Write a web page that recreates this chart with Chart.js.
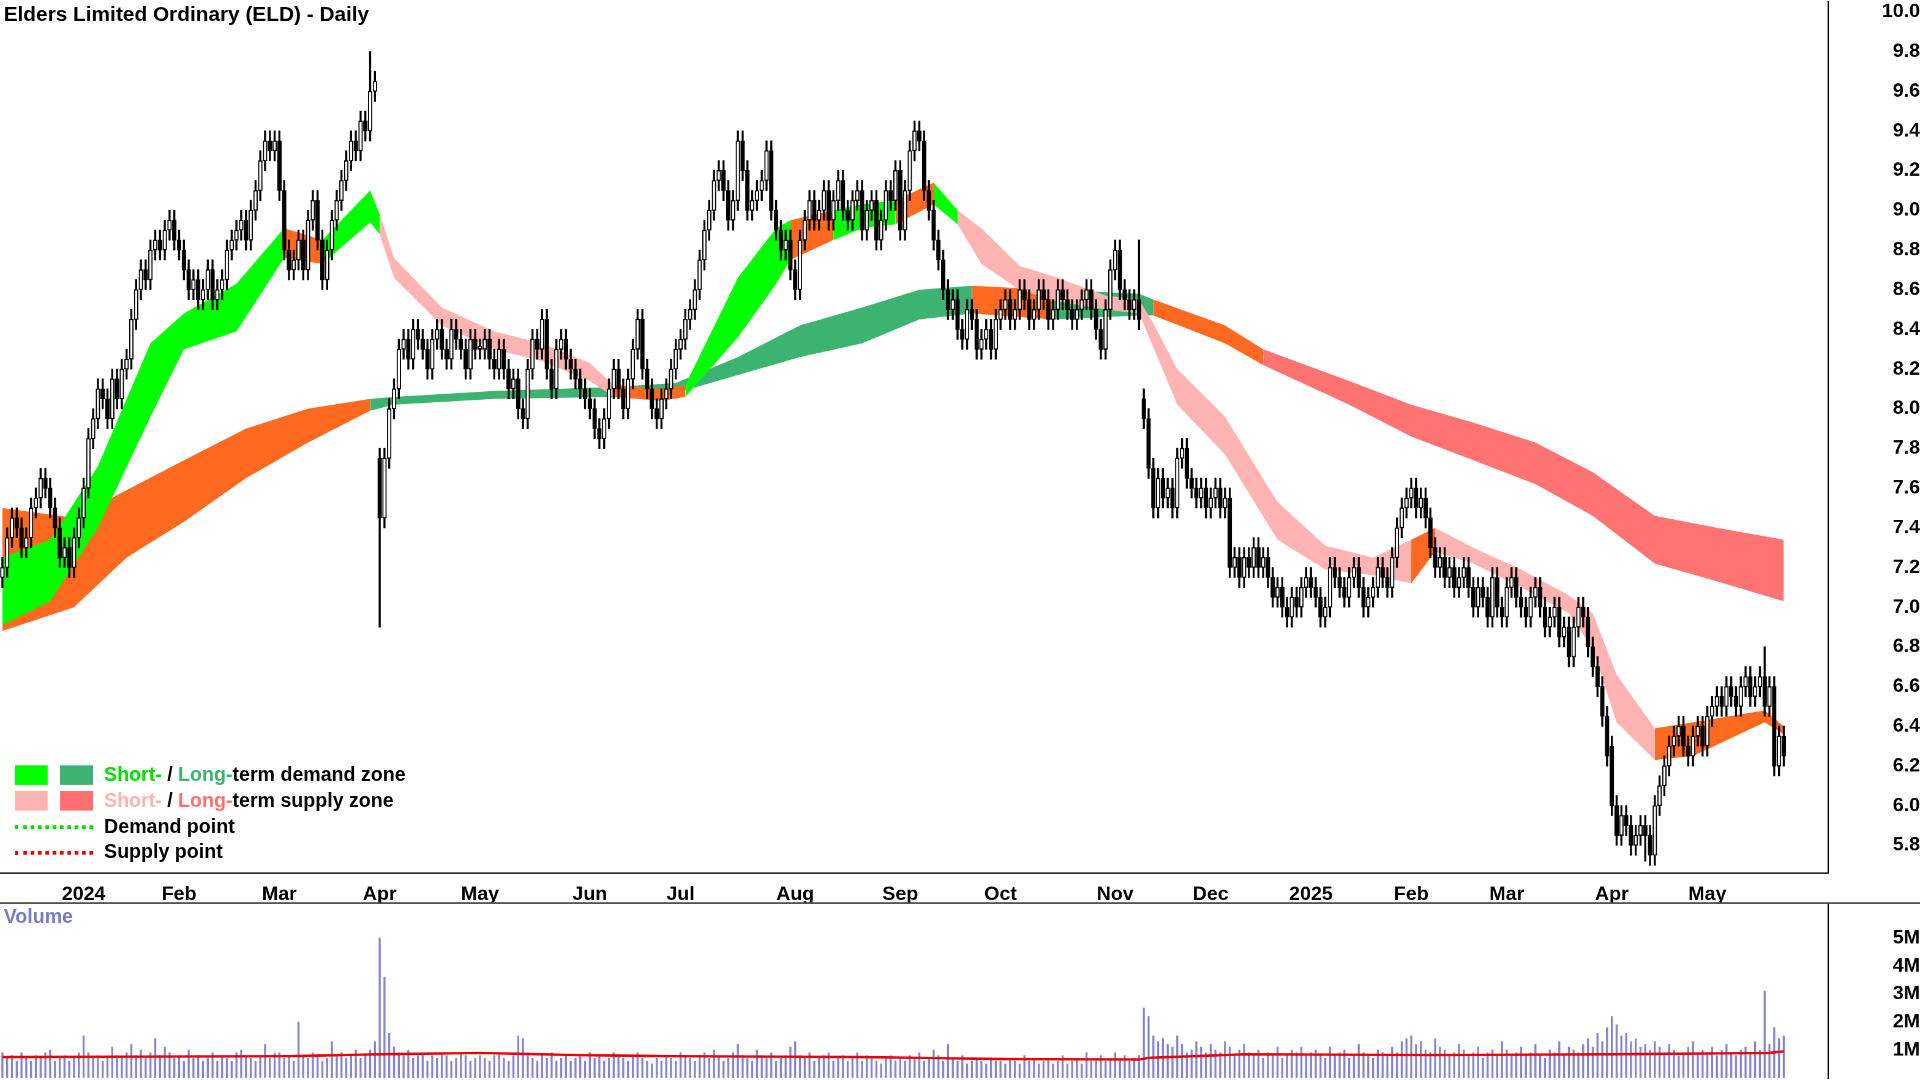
<!DOCTYPE html>
<html>
<head>
<meta charset="utf-8">
<script src="https://cdn.jsdelivr.net/npm/chart.js@4.4.1/dist/chart.umd.min.js"></script>
<style>
  body { margin: 0; background: #fff; overflow: hidden; }
  #wrap { position: absolute; left: 0; top: 0; width: 1568px; height: 882px; transform: scale(1.22449); transform-origin: 0 0; font-family: "Liberation Sans", Arial, sans-serif; overflow: hidden; }
  #priceBox { position: absolute; left: 0; top: -12px; width: 1568px; height: 749px; }
  #volLine { position: absolute; left: 0; top: 737px; width: 1568px; border-top: 1px solid #000; }
  #volBox { position: absolute; left: 0; top: 725px; width: 1568px; height: 169px; }
  .title { position: absolute; left: 3px; top: 2px; font-weight: bold; font-size: 17px; }
  .vlab { position: absolute; left: 3px; font-weight: bold; font-size: 16px; color: #7b7bc4; }
  .legend { position: absolute; left: 12px; top: 624px; font-weight: bold; font-size: 16px; }
  .row { height: 21px; position: relative; }
  .sw { position: absolute; top: 1px; width: 27px; height: 16px; }
  .txt { position: absolute; left: 73px; top: 0; white-space: nowrap; }
  .dot { position: absolute; left: 0; top: 8px; width: 64px; border-top: 3px dotted; }
</style>
</head>
<body>
<div id="wrap">
  <div id="priceBox"><canvas id="price" width="1568" height="749"></canvas></div>
  <div id="volBox"><canvas id="vol" width="1568" height="169"></canvas></div>
  <div id="volLine"></div>
  <div class="title">Elders Limited Ordinary (ELD) - Daily</div>
  <div class="vlab" style="top:740px">Volume</div>
  <div class="legend">
    <div class="row"><div class="sw" style="left:0;background:#00ff00"></div><div class="sw" style="left:37px;background:#3cb371"></div><div class="txt"><span style="color:#00e000">Short-</span> / <span style="color:#3cb371">Long-</span>term demand zone</div></div>
    <div class="row"><div class="sw" style="left:0;background:#ffb3b3"></div><div class="sw" style="left:37px;background:#ff7070"></div><div class="txt"><span style="color:#ffb3b3">Short-</span> / <span style="color:#ff7070">Long-</span>term supply zone</div></div>
    <div class="row"><div class="dot" style="border-color:#00dd00"></div><div class="txt">Demand point</div></div>
    <div class="row"><div class="dot" style="border-color:#ee0000"></div><div class="txt">Supply point</div></div>
  </div>
</div>
<script>
// daily closes, Dec 2023 .. May 2025
const closes = [
  7.20,7.35,7.45,7.40,7.30,7.35,7.50,7.55,7.65,7.60,7.50,7.40,7.25,7.30,7.20,7.35,7.45,
  7.60,7.85,7.95,8.10,8.05,7.95,8.15,8.05,8.20,8.25,8.45,8.60,8.70,8.65,8.80,8.85,8.80,8.90,8.95,8.85,
  8.80,8.70,8.60,8.65,8.55,8.60,8.70,8.55,8.60,8.65,8.80,8.85,8.90,8.95,8.85,9.00,9.10,9.25,9.35,9.30,9.35,
  9.10,8.80,8.70,8.75,8.85,8.70,8.95,9.05,8.85,8.65,8.80,8.95,9.05,9.15,9.25,9.35,9.30,9.45,9.40,9.60,9.65,
  7.45,7.75,8.00,8.10,8.30,8.35,8.25,8.40,8.35,8.30,8.20,8.35,8.40,8.30,8.25,8.40,8.35,8.30,8.20,8.35,8.30,
  8.30,8.35,8.25,8.20,8.30,8.20,8.10,8.15,8.00,7.95,8.20,8.35,8.30,8.45,8.20,8.10,8.30,8.35,8.25,8.20,8.15,8.10,8.05,
  8.00,7.90,7.85,7.95,8.10,8.20,8.10,8.00,8.15,8.30,8.45,8.20,8.10,8.00,7.95,8.05,8.10,8.20,8.30,
  8.35,8.45,8.50,8.60,8.75,8.90,9.00,9.15,9.20,9.10,8.95,9.05,9.35,9.20,9.00,9.05,9.10,9.15,9.30,9.00,8.90,8.80,8.85,8.70,
  8.60,8.85,8.95,9.05,8.95,9.00,9.10,8.95,9.05,9.15,9.00,8.95,9.05,9.10,8.90,9.00,9.05,8.85,8.95,9.10,9.05,9.20,
  8.90,9.10,9.30,9.40,9.35,9.10,9.00,8.85,8.75,8.60,8.50,8.55,8.40,8.35,8.50,8.45,8.30,8.35,8.40,8.30,8.45,
  8.50,8.55,8.45,8.50,8.60,8.55,8.45,8.50,8.60,8.55,8.45,8.50,8.60,8.55,8.50,8.45,8.50,8.55,8.60,8.50,8.40,8.30,8.50,8.70,
  8.80,8.60,8.55,8.50,8.55,8.45,7.95,7.70,7.50,7.65,7.55,7.60,7.50,7.75,7.80,7.65,7.60,7.55,7.60,7.50,
  7.55,7.60,7.50,7.55,7.20,7.25,7.15,7.25,7.20,7.30,7.20,7.25,7.15,7.05,7.10,7.00,6.95,7.05,7.00,7.10,7.15,
  7.10,7.05,6.95,7.00,7.20,7.15,7.10,7.05,7.15,7.20,7.10,7.00,7.05,7.10,7.20,7.15,7.10,7.25,7.40,7.50,7.55,
  7.60,7.50,7.55,7.45,7.30,7.20,7.25,7.15,7.20,7.10,7.15,7.20,7.10,7.00,7.10,7.05,6.95,7.15,7.00,6.95,
  7.10,7.15,7.05,7.00,6.95,7.05,7.10,7.00,6.90,6.95,7.00,6.85,6.90,6.75,6.90,7.00,6.95,6.80,6.70,6.60,6.45,6.25,
  6.00,5.85,5.95,5.90,5.80,5.85,5.90,5.85,5.75,6.00,6.10,6.20,6.30,6.35,6.40,6.30,6.25,6.35,6.40,6.30,
  6.45,6.50,6.55,6.50,6.60,6.55,6.50,6.60,6.65,6.55,6.60,6.65,6.50,6.60,6.20,6.35,6.25
];
// gap opens and long wicks
const openGaps = { 79: 7.75, 239: 8.05, 337: 6.30 };
const highSpikes = { 77: 9.80, 238: 8.85, 369: 6.80 };
const lowSpikes = { 79: 6.90, 344: 5.72 };

const volumes = [
  .9,.7,.8,.6,.9,.7,.6,.8,.7,.9,1.0,.6,.7,.8,.6,.7,.9,
  1.5,.9,.7,.8,.6,.7,1.1,.8,.7,.9,1.2,.8,1.0,.7,.9,1.4,.8,1.1,.9,.7,
  .8,.6,1.0,.7,.8,.6,.7,.9,.6,.8,.7,.6,.9,1.0,.8,.7,.6,.8,1.2,.7,.9,
  .9,.7,.8,.6,2.0,.8,.7,.9,.8,.6,.7,1.3,.8,.9,.7,.8,1.0,.7,.8,1.0,1.3,
  5.0,3.6,1.6,1.1,.9,.8,1.0,.7,.8,.9,.6,.8,.7,.9,.8,.6,.7,.9,.8,.6,.7,
  .8,.7,.6,.8,.9,.7,.6,.8,1.5,1.4,.8,.7,.6,.8,.7,.9,.6,.7,.8,.6,.7,.8,.6,
  .9,.7,.8,.6,.7,.9,.8,.7,.6,.8,.9,.7,.6,.5,.7,.6,.8,.7,.6,
  .9,.8,.7,.6,.8,.9,.7,1.0,.8,.6,.7,.9,1.2,.8,.7,.6,1.0,.8,.7,.9,.6,.7,.8,1.1,
  1.3,.8,.7,.9,.6,.7,.8,.9,.6,.7,.8,.6,.7,.9,.6,.8,.7,.6,.5,.7,.8,.6,
  .7,.6,.8,.7,.9,.6,.7,1.0,.8,.6,1.2,.7,.6,.8,.5,.6,.7,.6,.5,.7,.6,
  .6,.5,.7,.6,.5,.8,.6,.7,.5,.6,.7,.5,.6,.8,.5,.6,.7,.5,.9,.6,.7,.8,.6,.7,
  .9,.7,.8,.6,.7,.8,2.5,2.2,1.5,1.3,1.4,1.2,1.1,1.5,1.2,.9,1.0,1.3,1.1,.9,
  1.2,1.0,.9,1.3,1.1,.8,1.0,1.2,.9,.8,1.0,.7,.9,.8,1.1,.7,.8,1.0,.9,1.1,.8,
  .9,1.0,.8,.7,1.1,.8,.9,1.0,.7,.8,1.2,.9,.8,.7,1.0,.9,.8,1.1,.9,1.3,1.4,
  1.5,1.2,1.3,1.0,.9,1.4,1.1,1.0,.8,.9,1.2,1.0,.8,.9,1.1,.7,.9,1.0,.8,1.3,
  1.0,.8,.9,1.1,.8,.9,1.2,.8,.7,1.0,.9,1.3,.8,1.1,1.0,.9,1.2,1.4,1.1,1.6,1.3,1.8,
  2.2,1.9,1.5,1.6,1.3,1.4,1.1,1.2,1.0,1.3,1.1,.9,1.2,1.0,.8,.9,1.1,1.3,.9,1.0,
  .9,1.1,.8,1.0,1.2,.9,.8,1.0,1.1,.9,1.3,1.0,3.1,1.2,1.8,1.4,1.5
];
const volAvgX = [0, 60, 79, 100, 120, 140, 180, 210, 238, 240, 260, 300, 337, 370, 373];
const volAvgY = [.75, .78, .85, .9, .82, .78, .75, .68, .66, .72, .85, .82, .85, .9, .95];

// month labels and their first bar
const monthLabels = ['2024','Feb','Mar','Apr','May','Jun','Jul','Aug','Sep','Oct','Nov','Dec','2025','Feb','Mar','Apr','May'];
const monthStarts = [17, 37, 58, 79, 100, 123, 142, 166, 188, 209, 233, 253, 274, 295, 315, 337, 357];
const priceTicks = [5.8,6.0,6.2,6.4,6.6,6.8,7.0,7.2,7.4,7.6,7.8,8.0,8.2,8.4,8.6,8.8,9.0,9.2,9.4,9.6,9.8,10.0];

// short-term band (bar index, top, bottom)
const shortX = [0,10,20,31,38,49,59,67,77,79,82,92,103,113,123,128,138,143,154,162,165,174,180,187,195,200,205,213,221,231,238,241,246,256,267,277,287,295,300,308,318,328,333,338,346,354,369,373];
const shortTop = [7.25,7.34,7.71,8.33,8.48,8.63,8.91,8.85,9.10,8.98,8.76,8.51,8.39,8.33,8.23,8.12,8.10,8.12,8.66,8.91,8.95,9.00,9.03,9.05,9.14,9.00,8.91,8.72,8.66,8.57,8.55,8.43,8.20,7.96,7.53,7.31,7.25,7.34,7.40,7.30,7.19,7.06,6.97,6.66,6.39,6.42,6.48,6.40];
const shortBot = [6.91,7.03,7.40,7.96,8.30,8.39,8.76,8.73,8.94,8.88,8.66,8.42,8.30,8.24,8.14,8.06,8.04,8.06,8.36,8.63,8.75,8.85,8.91,8.93,9.03,8.93,8.73,8.60,8.54,8.50,8.48,8.31,8.02,7.77,7.34,7.19,7.16,7.12,7.28,7.22,7.10,6.97,6.79,6.42,6.23,6.25,6.42,6.36];
const shortSpans = [[0,'g'],[59,'o'],[72,'g'],[79,'p'],[128,'o'],[143,'g'],[165,'o'],[177,'g'],[185,'o'],[192,'g'],[199,'p'],[295,'o'],[301,'p'],[350,'o']];

// long-term band
const longX = [0,15,26,38,51,64,77,82,103,128,141,154,167,180,192,203,220,238,241,256,264,282,295,308,321,333,346,359,373];
const longTop = [7.50,7.45,7.59,7.74,7.90,8.00,8.05,8.06,8.09,8.11,8.13,8.26,8.42,8.51,8.60,8.62,8.60,8.58,8.55,8.42,8.30,8.14,8.02,7.93,7.83,7.68,7.46,7.40,7.34];
const longBot = [6.88,7.00,7.25,7.43,7.65,7.83,7.99,8.02,8.05,8.06,8.08,8.17,8.26,8.33,8.45,8.48,8.45,8.47,8.47,8.33,8.22,8.02,7.86,7.74,7.62,7.46,7.22,7.13,7.03];
const longSpans = [[0,'o'],[79,'d'],[205,'o'],[228,'d'],[240,'o'],[265,'r']];

const zoneColors = { g: '#00ff00', d: '#3cb371', o: '#ff6a20', p: '#ffb3b3', r: '#ff7373' };

const spanColor = (spans, x) => {
   let c = spans[0][1];
   for (let s of spans) if (x >= s[0] - 0.01) c = s[1];
   return zoneColors[c];
}

const pts = (xs, ys) => xs.map((x, i) => ({ x: x, y: ys[i] }));

const bandSets = (xs, top, bot, spans) => [
   { type: 'line', data: pts(xs, top), borderWidth: 0, pointRadius: 0, fill: false, order: 10 },
   {
      type: 'line', data: pts(xs, bot), borderWidth: 0, pointRadius: 0, fill: '-1', order: 10,
      backgroundColor: zoneColors.g,
      segment: { backgroundColor: (ctx) => spanColor(spans, (ctx.p0.parsed.x + ctx.p1.parsed.x) / 2) }
   }
];

const bodies = [], wicks = [], bodyFill = [];
for (let i = 0; i < closes.length; ++i) {
   const o = openGaps[i] !== undefined ? openGaps[i] : (i == 0 ? closes[0] - 0.05 : closes[i - 1]);
   const c = closes[i];
   const hi = highSpikes[i] !== undefined ? highSpikes[i] : Math.max(o, c) + 0.05;
   const lo = lowSpikes[i] !== undefined ? lowSpikes[i] : Math.min(o, c) - 0.05;
   let b0 = Math.min(o, c), b1 = Math.max(o, c);
   if (b1 - b0 < 0.015) b1 = b0 + 0.015;
   bodies.push({ x: i, y: [b0, b1] });
   wicks.push({ x: i, y: [lo, hi] });
   bodyFill.push(c >= o ? '#ffffff' : '#000000');
}

const xMin = -0.5, xMax = 382.3;
const boldFont = { family: '"Liberation Sans", Arial, sans-serif', size: 16, weight: 'bold' };

const yAxisWidth = (scale) => { scale.width = 75; };

new Chart(document.getElementById('price').getContext('2d'), {
   type: 'bar',
   data: {
      datasets: [
         { type: 'bar', data: bodies, backgroundColor: bodyFill, borderColor: '#000', borderWidth: 1, borderSkipped: false, barThickness: 3, grouped: false, order: 1 },
         { type: 'bar', data: wicks, backgroundColor: '#000', barThickness: 1, grouped: false, order: 2 },
         ...bandSets(shortX, shortTop, shortBot, shortSpans),
         ...bandSets(longX, longTop, longBot, longSpans)
      ]
   },
   options: {
      responsive: false, animation: false, devicePixelRatio: 2,
      layout: { padding: 0 },
      plugins: { legend: { display: false }, tooltip: { enabled: false } },
      scales: {
         x: {
            type: 'linear', min: xMin, max: xMax, offset: false,
            grid: { display: false }, border: { display: true, color: '#000' },
            afterBuildTicks: (scale) => { scale.ticks = monthStarts.map(v => ({ value: v })); },
            afterFit: (scale) => { scale.height = 24; },
            ticks: { autoSkip: false, maxRotation: 0, color: '#000', font: boldFont, padding: 0,
               callback: (v) => monthLabels[monthStarts.indexOf(v)] }
         },
         y: {
            position: 'right', min: 5.66, max: 10.05,
            grid: { display: false }, border: { display: true, color: '#000' },
            afterBuildTicks: (scale) => { scale.ticks = priceTicks.map(v => ({ value: v })); },
            afterFit: yAxisWidth,
            ticks: { color: '#000', font: boldFont, crossAlign: 'far', padding: 4, callback: (v) => v.toFixed(1) }
         }
      }
   }
});

new Chart(document.getElementById('vol').getContext('2d'), {
   type: 'bar',
   data: {
      datasets: [
         { type: 'line', data: pts(volAvgX, volAvgY), borderColor: '#ee0000', borderWidth: 2, pointRadius: 0, order: 0 },
         { type: 'bar', data: volumes.map((v, i) => ({ x: i, y: v })), backgroundColor: '#8585cc', barThickness: 1, grouped: false, order: 1 }
      ]
   },
   options: {
      responsive: false, animation: false, devicePixelRatio: 2,
      layout: { padding: 0 },
      plugins: { legend: { display: false }, tooltip: { enabled: false } },
      scales: {
         x: { type: 'linear', min: xMin, max: xMax, offset: false, display: false },
         y: {
            position: 'right', min: 0, max: 6.2,
            grid: { display: false }, border: { display: true, color: '#000' },
            afterBuildTicks: (scale) => { scale.ticks = [1, 2, 3, 4, 5].map(v => ({ value: v })); },
            afterFit: yAxisWidth,
            ticks: { color: '#000', font: boldFont, crossAlign: 'far', padding: 4, callback: (v) => v + 'M' }
         }
      }
   }
});
</script>
</body>
</html>
